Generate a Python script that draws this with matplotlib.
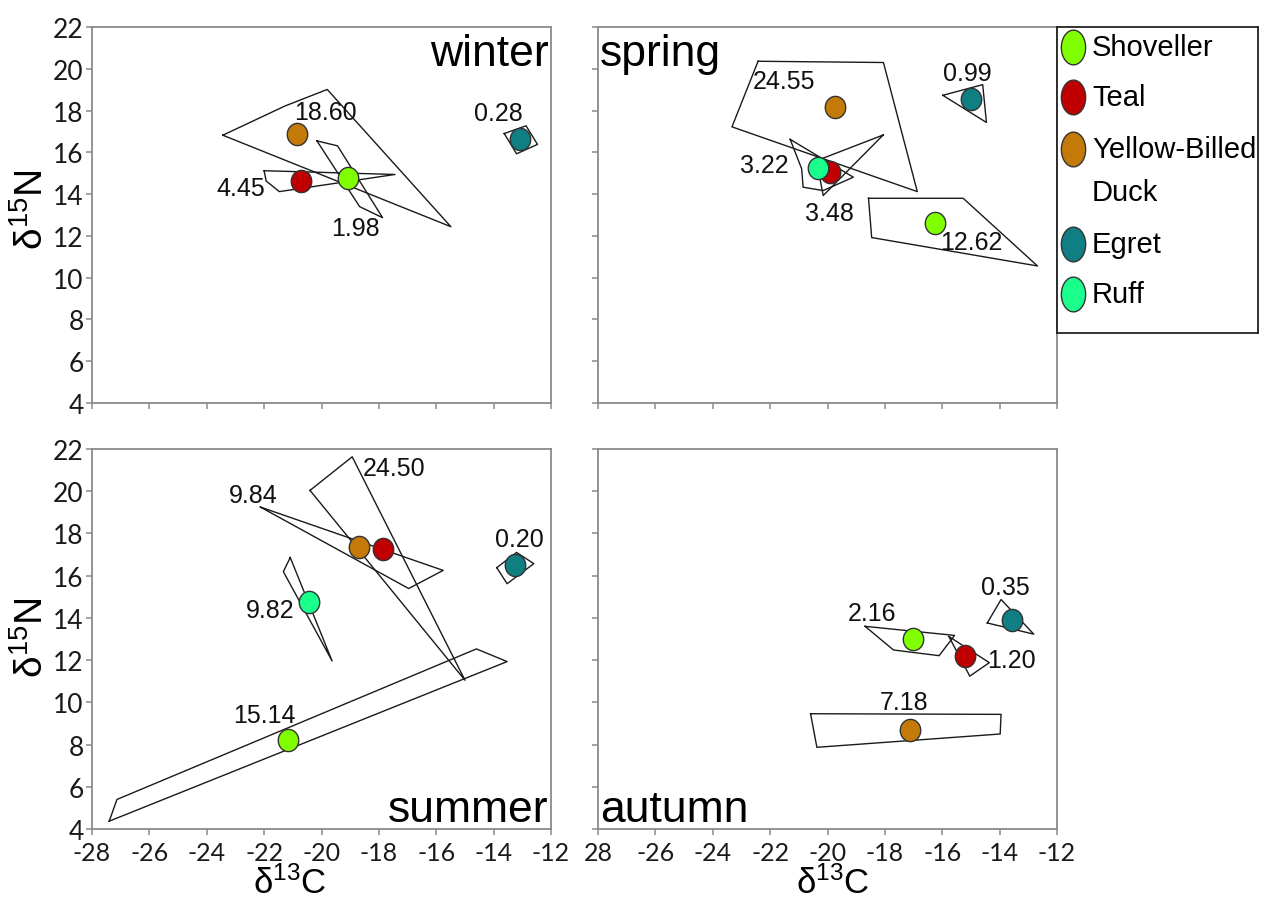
import numpy as np
import matplotlib
matplotlib.use('Agg')
import matplotlib.pyplot as plt
from matplotlib.path import Path

plt.rcParams['axes.unicode_minus'] = False

# species order used by every array below
species = ['Shoveller', 'Teal', 'Yellow-Billed\nDuck', 'Egret', 'Ruff']
colors = ['#80ff00', '#c00000', '#c47a08', '#0f7f84', '#1aff8c']
nan = np.nan

# seasonal means (d13C, d15N), hull area (SEA) and hull vertices
winter_c13 = [-19.07, -20.73, -20.87, -13.07, nan]
winter_n15 = [14.75, 14.64, 16.90, 16.66, nan]
winter_area = [1.98, 4.45, 18.60, 0.28, nan]
winter_hulls = [
    [(-20.16, 16.55), (-19.44, 16.31), (-17.87, 12.87), (-18.67, 13.40)],
    [(-22.0, 15.12), (-17.44, 14.94), (-21.47, 14.12), (-21.93, 14.63)],
    [(-23.44, 16.82), (-21.27, 18.22), (-19.8, 19.01), (-15.49, 12.44)],
    [(-13.63, 16.90), (-12.87, 17.27), (-12.47, 16.38), (-13.2, 15.93)],
    None,
]

spring_c13 = [-16.26, -19.91, -19.73, -15.01, -20.32]
spring_n15 = [12.60, 15.04, 18.18, 18.53, 15.23]
spring_area = [12.62, 3.48, 24.55, 0.99, 3.22]
spring_hulls = [
    [(-18.57, 13.80), (-15.27, 13.80), (-12.68, 10.56), (-18.46, 11.92)],
    [(-18.06, 16.83), (-20.38, 15.6), (-20.15, 13.93), (-19.69, 14.57)],
    [(-22.42, 20.36), (-18.05, 20.30), (-16.87, 14.12), (-23.33, 17.22)],
    [(-15.98, 18.73), (-14.59, 19.24), (-14.46, 17.43)],
    [(-21.3, 16.62), (-19.1, 14.81), (-20.15, 14.17), (-20.85, 14.33), (-20.9, 15.21)],
]

summer_c13 = [-21.16, -17.87, -18.69, -13.27, -20.43]
summer_n15 = [8.23, 17.26, 17.34, 16.49, 14.76]
summer_area = [15.14, 9.84, 24.50, 0.20, 9.82]
summer_hulls = [
    [(-27.4, 4.37), (-27.13, 5.40), (-14.6, 12.53), (-13.53, 11.93)],
    [(-22.13, 19.25), (-15.76, 16.25), (-16.96, 15.39)],
    [(-20.4, 20.04), (-18.93, 21.63), (-15.0, 11.05)],
    [(-13.89, 16.38), (-13.2, 17.1), (-12.6, 16.57), (-13.53, 15.62)],
    [(-21.09, 16.86), (-19.63, 11.96), (-21.33, 16.19)],
]

autumn_c13 = [-17.02, -15.19, -17.13, -13.57, nan]
autumn_n15 = [13.01, 12.20, 8.71, 13.91, nan]
autumn_area = [2.16, 1.20, 7.18, 0.35, nan]
autumn_hulls = [
    [(-18.69, 13.6), (-15.57, 13.17), (-16.11, 12.21), (-17.7, 12.48)],
    [(-15.77, 13.12), (-14.36, 11.88), (-15.04, 11.24)],
    [(-20.59, 9.46), (-13.95, 9.43), (-13.98, 8.5), (-20.37, 7.87)],
    [(-14.43, 13.76), (-13.95, 14.87), (-12.81, 13.23)],
    None,
]

# where each area value is written
winter_label_xy = [(-18.8, 12.4), (-22.83, 14.27), (-19.87, 17.94), (-13.83, 17.86), None]
spring_label_xy = [(-14.97, 11.73), (-19.94, 13.08), (-21.51, 19.4), (-15.12, 19.82), (-22.19, 15.39)]
summer_label_xy = [(-22.0, 9.41), (-22.37, 19.8), (-17.47, 21.08), (-13.09, 17.73), (-21.8, 14.39)]
autumn_label_xy = [(-18.46, 14.23), (-13.6, 12.0), (-17.32, 10.02), (-13.79, 15.46), None]

x_ticks = [-28, -26, -24, -22, -20, -18, -16, -14, -12]
y_ticks = [4, 6, 8, 10, 12, 14, 16, 18, 20, 22]


def ellipse_marker(ratio):
    t = np.linspace(0, 2 * np.pi, 65)
    return Path(np.column_stack([ratio * np.cos(t), np.sin(t)]))


dot = ellipse_marker(0.92)
big_dot = ellipse_marker(0.70)

W, H = 1265, 904
fig = plt.figure(figsize=(W / 100, H / 100), dpi=100)


def px_axes(x0, y0, x1, y1):
    return fig.add_axes([x0 / W, 1 - y1 / H, (x1 - x0) / W, (y1 - y0) / H])


spine_col = '#8a8a8a'
TXT = 'Liberation Sans'


def panel(ax, name, c13, n15, area, hulls, label_xy, show_x, show_y, name_pos):
    for i in range(len(species)):
        if hulls[i] is not None:
            pts = hulls[i] + [hulls[i][0]]
            ax.plot([p[0] for p in pts], [p[1] for p in pts], color='#1a1a1a', lw=1.0, zorder=2)
        if not np.isnan(c13[i]):
            ax.plot(c13[i], n15[i], linestyle='none', marker=dot, markersize=16,
                    markerfacecolor=colors[i], markeredgecolor='#333333',
                    markeredgewidth=1.0, zorder=3)
            lx, ly = label_xy[i]
            ax.text(lx, ly, f'{area[i]:.2f}', ha='center', va='center',
                    fontsize=18, family=TXT, color='#111111', zorder=4)
    ax.set_xlim(-28, -12)
    ax.set_ylim(4, 22)
    ax.set_xticks(x_ticks)
    ax.set_yticks(y_ticks)
    for s in ax.spines.values():
        s.set_color(spine_col)
        s.set_linewidth(1.3)
    ax.tick_params(direction='out', length=4, width=1.1, color=spine_col,
                   labelsize=19, labelcolor='#1a1a1a', pad=2)
    ax.tick_params(axis='x', pad=5, labelsize=18)
    for lab in ax.get_xticklabels() + ax.get_yticklabels():
        lab.set_family('Lato')
    if not show_x:
        ax.set_xticklabels([])
    if not show_y:
        ax.set_yticklabels([])
    x, y, ha, va = name_pos
    ax.text(x, y, name, transform=ax.transAxes, ha=ha, va=va,
            fontsize=32, family=TXT, color='#000000')


ax_w = px_axes(92, 28, 551, 404)
ax_sp = px_axes(598, 28, 1057, 404)
ax_su = px_axes(92, 450, 551, 830)
ax_au = px_axes(598, 450, 1057, 830)

panel(ax_w, 'winter', winter_c13, winter_n15, winter_area, winter_hulls, winter_label_xy,
      False, True, (0.995, 0.985, 'right', 'top'))
panel(ax_sp, 'spring', spring_c13, spring_n15, spring_area, spring_hulls, spring_label_xy,
      False, False, (0.005, 0.985, 'left', 'top'))
panel(ax_su, 'summer', summer_c13, summer_n15, summer_area, summer_hulls, summer_label_xy,
      True, True, (0.995, 0.02, 'right', 'baseline'))
panel(ax_au, 'autumn', autumn_c13, autumn_n15, autumn_area, autumn_hulls, autumn_label_xy,
      True, False, (0.005, 0.02, 'left', 'baseline'))

# first label of the right-hand axis is clipped to "28"
au_labels = [str(t) for t in x_ticks]
au_labels[0] = '28'
ax_au.set_xticklabels(au_labels, family='Lato')

# axis titles
for yc in (210, 638):
    fig.text(32 / W, 1 - yc / H, r'$\mathregular{\delta^{15}N}$', rotation=90,
             ha='center', va='center', fontsize=28, family=TXT)
for xc in (290, 833):
    fig.text(xc / W, 1 - 894 / H, r'$\mathregular{\delta^{13}C}$',
             ha='center', va='baseline', fontsize=25, family=TXT)

# legend box
leg = px_axes(1057, 28, 1258, 334)
leg.set_xlim(0, 201)
leg.set_ylim(306, 0)
leg.set_xticks([])
leg.set_yticks([])
for s in leg.spines.values():
    s.set_color('#222222')
    s.set_linewidth(1.3)
leg_rows = [20, 70, 122, 217, 267]
for i, name in enumerate(species):
    y = leg_rows[i]
    leg.plot(16, y, linestyle='none', marker=big_dot, markersize=25,
             markerfacecolor=colors[i], markeredgecolor='#333333', markeredgewidth=1.0)
    if '\n' in name:
        first, second = name.split('\n')
        leg.text(35, y, first, ha='left', va='center', fontsize=21, family=TXT)
        leg.text(35, y + 43, second, ha='left', va='center', fontsize=21, family=TXT)
    else:
        leg.text(35, y, name, ha='left', va='center', fontsize=21, family=TXT)

fig.savefig('out.png', dpi=100)
